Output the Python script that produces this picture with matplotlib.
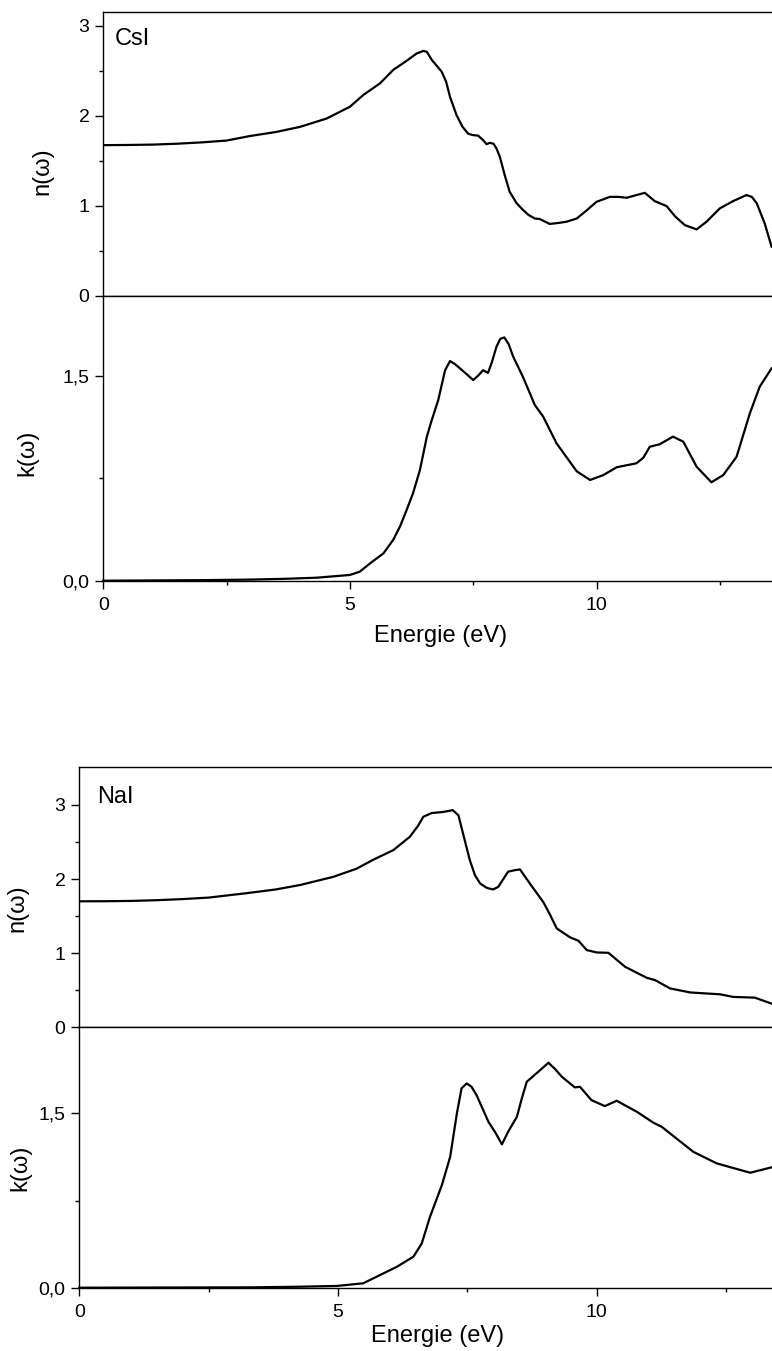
import matplotlib
matplotlib.use('Agg')
import matplotlib.pyplot as plt
from matplotlib.ticker import FixedLocator, FuncFormatter

plt.rcParams['font.family'] = ['Liberation Sans', 'DejaVu Sans']

# --- CsI : indice de refraction n et coefficient d'extinction k ---
csi_n_x = [0, 0.5, 1.0, 1.5, 2.0, 2.5, 2.97, 3.5, 3.99, 4.53, 5.0, 5.27, 5.61, 5.88, 6.15,
           6.35, 6.49, 6.56, 6.66, 6.86, 6.95, 7.03, 7.16, 7.28, 7.40, 7.50, 7.60, 7.70,
           7.77, 7.84, 7.91, 7.97, 8.04, 8.14, 8.24, 8.38, 8.50, 8.62, 8.75, 8.85, 9.05,
           9.22, 9.39, 9.60, 9.80, 10.0, 10.27, 10.45, 10.61, 10.81, 10.98, 11.18, 11.42,
           11.60, 11.79, 12.03, 12.23, 12.50, 12.77, 13.04, 13.15, 13.25, 13.41, 13.55]
csi_n = [1.674, 1.676, 1.68, 1.69, 1.705, 1.725, 1.775, 1.82, 1.877, 1.97, 2.10, 2.23, 2.36,
         2.51, 2.61, 2.69, 2.72, 2.71, 2.62, 2.49, 2.38, 2.21, 2.01, 1.88, 1.80, 1.785, 1.78,
         1.73, 1.685, 1.70, 1.69, 1.64, 1.545, 1.34, 1.156, 1.03, 0.96, 0.90, 0.86, 0.854,
         0.80, 0.81, 0.824, 0.86, 0.95, 1.045, 1.10, 1.10, 1.09, 1.12, 1.145, 1.053, 0.998,
         0.88, 0.787, 0.739, 0.824, 0.972, 1.053, 1.12, 1.10, 1.028, 0.806, 0.547]

csi_k_x = [0, 1, 2, 2.97, 3.7, 4.33, 5.0, 5.20, 5.41, 5.68, 5.88, 6.02, 6.15, 6.28, 6.42,
           6.56, 6.66, 6.79, 6.93, 7.03, 7.13, 7.23, 7.37, 7.50, 7.60, 7.70, 7.80, 7.88,
           7.97, 8.05, 8.13, 8.22, 8.31, 8.51, 8.75, 8.92, 9.19, 9.40, 9.60, 9.87, 10.14,
           10.41, 10.81, 10.95, 11.08, 11.28, 11.55, 11.76, 12.03, 12.33, 12.57, 12.84,
           13.11, 13.31, 13.55]
csi_k = [0.0, 0.002, 0.004, 0.008, 0.014, 0.022, 0.042, 0.066, 0.127, 0.20, 0.30, 0.40,
         0.517, 0.64, 0.81, 1.054, 1.175, 1.32, 1.54, 1.607, 1.585, 1.554, 1.51, 1.468,
         1.50, 1.54, 1.52, 1.60, 1.71, 1.77, 1.78, 1.73, 1.64, 1.49, 1.285, 1.20, 1.005,
         0.90, 0.80, 0.737, 0.773, 0.83, 0.859, 0.90, 0.98, 0.998, 1.054, 1.017, 0.834,
         0.72, 0.773, 0.907, 1.225, 1.42, 1.554]

# --- NaI ---
nai_n_x = [0, 0.5, 1.0, 1.5, 2.0, 2.5, 3.24, 3.8, 4.27, 4.91, 5.36, 5.68, 6.07, 6.39, 6.55,
           6.65, 6.81, 7.04, 7.22, 7.33, 7.42, 7.55, 7.65, 7.75, 7.88, 8.00, 8.10, 8.29,
           8.42, 8.52, 8.71, 8.97, 9.10, 9.23, 9.49, 9.65, 9.81, 10.0, 10.23, 10.55, 10.97,
           11.13, 11.42, 11.81, 12.39, 12.64, 13.06, 13.38]
nai_n = [1.70, 1.701, 1.705, 1.715, 1.73, 1.75, 1.81, 1.86, 1.92, 2.03, 2.14, 2.26, 2.39,
         2.57, 2.72, 2.84, 2.89, 2.906, 2.93, 2.86, 2.61, 2.255, 2.05, 1.94, 1.88, 1.86,
         1.895, 2.10, 2.12, 2.13, 1.94, 1.69, 1.52, 1.334, 1.213, 1.167, 1.042, 1.01, 1.005,
         0.817, 0.668, 0.637, 0.525, 0.47, 0.445, 0.41, 0.40, 0.32]

nai_k_x = [0, 1, 2, 3.30, 4.2, 4.98, 5.49, 5.75, 6.14, 6.46, 6.62, 6.78, 7.01, 7.17, 7.30,
           7.39, 7.49, 7.58, 7.68, 7.91, 8.05, 8.17, 8.29, 8.46, 8.55, 8.65, 8.91, 9.07,
           9.20, 9.33, 9.58, 9.68, 9.90, 10.16, 10.39, 10.78, 11.10, 11.26, 11.87, 12.32,
           12.51, 12.97, 13.38]
nai_k = [0.0, 0.001, 0.002, 0.003, 0.008, 0.015, 0.038, 0.095, 0.18, 0.267, 0.38, 0.61,
         0.883, 1.126, 1.50, 1.715, 1.757, 1.73, 1.657, 1.427, 1.33, 1.233, 1.341, 1.47,
         1.62, 1.771, 1.872, 1.935, 1.88, 1.814, 1.723, 1.728, 1.614, 1.562, 1.608, 1.513,
         1.419, 1.384, 1.169, 1.07, 1.046, 0.989, 1.035]

W, H = 772, 1351
fig = plt.figure(figsize=(W / 100, H / 100), dpi=100)


def box(l, t, r, b):
    # pixels -> fraction de la figure
    return [l / W, 1 - b / H, (r - l) / W, (b - t) / H]


def panel(rect, xlim, ylim, yticks, ylabels, yminor, bas):
    ax = fig.add_axes(box(*rect))
    ax.set_xlim(*xlim)
    ax.set_ylim(*ylim)
    ax.spines['right'].set_visible(False)
    for s in ax.spines.values():
        s.set_linewidth(1.0)
    ax.yaxis.set_major_locator(FixedLocator(yticks))
    ax.yaxis.set_major_formatter(FuncFormatter(lambda v, p: ylabels[yticks.index(v)] if v in yticks else ''))
    ax.yaxis.set_minor_locator(FixedLocator(yminor))
    ax.tick_params(axis='y', which='major', direction='out', length=6, width=1, labelsize=14, pad=4)
    ax.tick_params(axis='y', which='minor', direction='out', length=3, width=1)
    ax.xaxis.set_major_locator(FixedLocator([0, 5, 10]))
    ax.xaxis.set_minor_locator(FixedLocator([2.5, 7.5, 12.5]))
    if bas:
        ax.tick_params(axis='x', which='major', direction='out', length=6, width=1, labelsize=14, pad=6)
        ax.tick_params(axis='x', which='minor', direction='out', length=3, width=1)
    else:
        ax.tick_params(axis='x', which='both', length=0, labelbottom=False)
    return ax


def groupe(left, top, mid, bottom, right, xmax, nmax, kmax, nx, ny, kx, ky):
    axn = panel((left, top, right, mid), (0, xmax), (0, nmax), [0, 1, 2, 3], ['0', '1', '2', '3'],
                [0.5, 1.5, 2.5], False)
    axk = panel((left, mid, right, bottom), (0, xmax), (0, kmax), [0, 1.5], ['0,0', '1,5'],
                [0.75], True)
    axn.plot(nx, ny, color='black', lw=1.6)
    axk.plot(kx, ky, color='black', lw=1.6, clip_on=False)
    return axn, axk


groupe(103.3, 11.7, 296, 580.7, 778, 13.68, 3.155, 2.083, csi_n_x, csi_n, csi_k_x, csi_k)
groupe(79.3, 766.7, 1027.3, 1287.7, 795.7, 13.85, 3.516, 2.24, nai_n_x, nai_n, nai_k_x, nai_k)

fs = 17
fig.text(115 / W, 1 - 45 / H, 'CsI', fontsize=fs, ha='left', va='baseline')
fig.text(97 / W, 1 - 803 / H, 'NaI', fontsize=fs, ha='left', va='baseline')

for (x, y, s) in [(42, 171, 'n(ω)'), (27, 453, 'k(ω)'), (17, 908, 'n(ω)'), (20, 1168, 'k(ω)')]:
    fig.text(x / W, 1 - y / H, s, fontsize=fs, rotation=90, ha='center', va='center')

fig.text(440.7 / W, 1 - 642 / H, 'Energie (eV)', fontsize=fs, ha='center', va='baseline')
fig.text(437.5 / W, 1 - 1342 / H, 'Energie (eV)', fontsize=fs, ha='center', va='baseline')

fig.savefig('out.png', dpi=100)
